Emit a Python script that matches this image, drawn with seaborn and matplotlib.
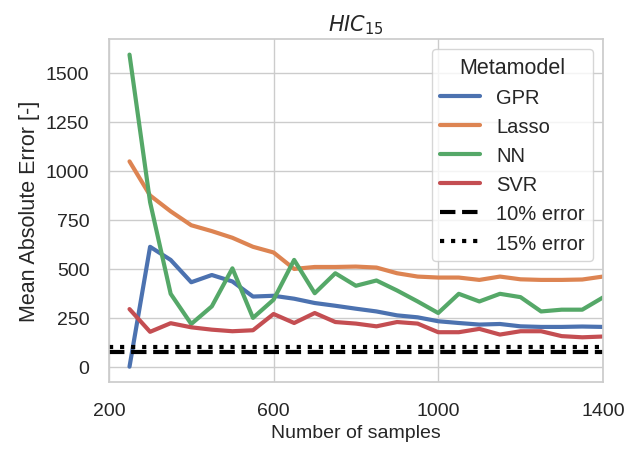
import matplotlib
matplotlib.use("Agg")
import matplotlib.pyplot as plt
import seaborn as sns
import pandas as pd

samples = list(range(250, 1401, 50))
gpr = [0, 612, 545, 431, 468, 435, 358, 362, 347, 325, 311, 296, 282, 262, 252,
       232, 223, 215, 218, 206, 203, 203, 205, 203]
lasso = [1048, 874, 793, 722, 692, 658, 612, 583, 499, 509, 509, 511, 506, 477, 460,
         455, 455, 443, 460, 446, 443, 443, 445, 460]
nn = [1593, 840, 372, 218, 308, 502, 249, 342, 545, 375, 477, 413, 440, 389, 333,
      274, 372, 333, 372, 355, 282, 291, 291, 353]
svr = [294, 178, 222, 201, 189, 181, 186, 269, 223, 274, 228, 220, 206, 228, 220,
       176, 176, 193, 164, 181, 181, 156, 150, 154]
models = ["GPR", "Lasso", "NN", "SVR"]
err10 = 75
err15 = 100

rows = []
for name, vals in zip(models, [gpr, lasso, nn, svr]):
    for s, v in zip(samples, vals):
        rows.append({"Number of samples": s, "MAE": v, "Metamodel": name})
df = pd.DataFrame(rows)

sns.set_theme(style="whitegrid", font_scale=1.25)
plt.rcParams["font.family"] = ["Liberation Sans", "DejaVu Sans"]

fig, ax = plt.subplots(figsize=(6.26, 4.52), dpi=100)
fig.subplots_adjust(left=0.174, right=0.963, top=0.9115, bottom=0.152)

sns.lineplot(data=df, x="Number of samples", y="MAE", hue="Metamodel",
             palette="deep", linewidth=3, ax=ax)
ax.axhline(err10, color="black", linestyle="--", linewidth=3, label="10% error")
ax.axhline(err15, color="black", linestyle=":", linewidth=3, label="15% error")

ax.set_xlim(200, 1400)
ax.set_xticks([200, 600, 1000, 1400])
ax.set_yticks([0, 250, 500, 750, 1000, 1250, 1500])
ax.tick_params(axis="both", length=0, pad=14, labelsize=14)
ax.set_xlabel("Number of samples", fontsize=14)
ax.set_ylabel("Mean Absolute Error [-]", fontsize=15.5)
ax.set_title("$HIC_{15}$", fontsize=15)
leg = ax.legend(title="Metamodel", loc="upper right", fontsize=14.5,
                title_fontsize=15.5)

fig.savefig("out.png", dpi=100)
